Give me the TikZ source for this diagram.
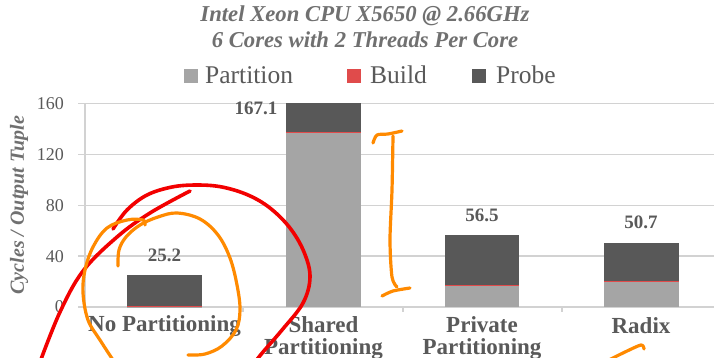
\documentclass[tikz,border=0pt]{standalone}
\usepackage{fontspec}
\setmainfont{Liberation Serif}
\definecolor{partc}{HTML}{A5A5A5}
\definecolor{buildc}{HTML}{E04B4B}
\definecolor{probec}{HTML}{585858}
\definecolor{txtc}{HTML}{595959}
\definecolor{ttlc}{HTML}{707070}
\definecolor{gridc}{HTML}{D2D2D2}
\definecolor{inkred}{HTML}{F20000}
\definecolor{inkorange}{HTML}{FF8A00}
\tikzset{
  ticklabel/.style={anchor=east, inner sep=0pt, text=txtc, font=\fontsize{18}{20}\selectfont},
  catlabel/.style={inner sep=0pt, text=txtc, align=center, font=\fontsize{23}{22}\selectfont\bfseries},
  vallabel/.style={inner sep=0pt, text=txtc, font=\fontsize{19}{20}\selectfont\bfseries},
  titlelabel/.style={inner sep=0pt, text=ttlc, font=\fontsize{22.7}{23}\selectfont\bfseries\itshape},
  legtext/.style={anchor=west, inner sep=0pt, text=txtc, font=\fontsize{25.5}{26}\selectfont},
  legkey/.style={minimum size=14pt, inner sep=0pt},
  gridline/.style={draw=gridc, line width=1.3pt},
  redink/.style={draw=inkred, line width=3.6pt, line cap=round, line join=round},
  orangeink/.style={draw=inkorange, line width=3.2pt, line cap=round, line join=round},
}
\begin{document}
\begin{tikzpicture}[x=1pt,y=-1pt]
\useasboundingbox (0,0) rectangle (714,357);
\fill[white] (0,0) rectangle (714,357);
\clip (0,0) rectangle (714,357);

% title
\node[titlelabel] (t1) at (365,16) {Intel Xeon CPU X5650 @ 2.66GHz};
\node[titlelabel] (t2) at (365,40) {6 Cores with 2 Threads Per Core};

% legend
\node[legkey, fill=partc] (kp) at (190.5,76) {};
\node[legtext] (lp) at (205,75) {Partition};
\node[legkey, fill=buildc] (kb) at (354,76) {};
\node[legtext] (lb) at (370,75) {Build};
\node[legkey, fill=probec] (kr) at (478.5,76) {};
\node[legtext] (lr) at (496,75) {Probe};

% axis title
\node[titlelabel, rotate=90, font=\fontsize{20}{20}\selectfont\bfseries\itshape] (ytitle) at (19,205) {Cycles / Output Tuple};

% data area: origin on the category axis, one unit per cycle
\begin{scope}[shift={(0,307)}, y=1.272pt]
  \foreach \v in {40,80,120,160} {
    \draw[gridline] (85,\v) -- (714,\v);
  }
  \draw[gridline] (85,0) -- (714,0);
  \draw[gridline] (85,0) -- (85,160);
  \foreach \v in {0,40,80,120,160} {
    \draw[gridline] (78,\v) -- (85,\v);
    \node[ticklabel] at (64,\v) {\v};
  }
  \foreach \x in {243,403,562} {
    \draw[gridline] (\x,0) -- (\x,-4);
  }

  % No Partitioning
  \fill[partc]  (127,0) rectangle (202,0.3);
  \fill[buildc] (127,0.3) rectangle (202,1.1);
  \fill[probec] (127,1.1) rectangle (202,25.2);
  % Shared Partitioning (total 167.1, cut at the axis top)
  \fill[partc]  (286,0) rectangle (361,136.6);
  \fill[buildc] (286,136.6) rectangle (361,137.6);
  \fill[probec] (286,137.6) rectangle (361,160);
  % Private Partitioning
  \fill[partc]  (445,0) rectangle (519,16.4);
  \fill[buildc] (445,16.4) rectangle (519,17.6);
  \fill[probec] (445,17.6) rectangle (519,56.5);
  % Radix
  \fill[partc]  (604,0) rectangle (679,19.6);
  \fill[buildc] (604,19.6) rectangle (679,20.6);
  \fill[probec] (604,20.6) rectangle (679,50.7);
\end{scope}

% value labels
\node[vallabel] (v1) at (164.5,255) {25.2};
\node[vallabel] (v2) at (256,108) {167.1};
\node[vallabel] (v3) at (482,215) {56.5};
\node[vallabel] (v4) at (641,222) {50.7};

% category labels
\node[catlabel] (c1) at (164.5,326) {No Partitioning};
\node[catlabel, anchor=north] (c2) at (323.5,316) {Shared\\Partitioning};
\node[catlabel, anchor=north] (c3) at (482,316) {Private\\Partitioning};
\node[catlabel] (c4) at (641,326) {Radix};

% hand-drawn markings
\draw[redink] plot[smooth, tension=0.6] coordinates {(40,362) (60,312) (83,271) (117,237) (150,213) (190,191)};
\draw[redink] plot[smooth, tension=0.6] coordinates {(113,229) (127,210) (147,195) (172,187) (197,185) (222,187) (248,195) (270,208) (290,228) (304,252) (310,277) (303,303) (282,330) (263,352) (255,362)};
\draw[orangeink] plot[smooth, tension=0.6] coordinates {(118,266) (119,250) (126,237) (140,225) (158,217) (177,213) (200,219) (218,235) (230,258) (237,285) (240,310) (236,330) (222,346) (205,354) (188,355)};
\draw[orangeink] plot[smooth, tension=0.6] coordinates {(145,225) (143,220) (127,220) (107,228) (93,247) (85,270) (83,293) (88,320) (100,340) (113,360)};
\draw[orangeink] plot[smooth, tension=0.5] coordinates {(373,143) (377,135) (388,134) (402,131)};
\draw[orangeink] plot[smooth, tension=0.5] coordinates {(393,136) (392,190) (390,240) (392,277) (397,287)};
\draw[orangeink] plot[smooth, tension=0.5] coordinates {(382,296) (393,291) (410,288)};
\draw[orangeink] plot[smooth, tension=0.5] coordinates {(607,361) (625,352) (641,345) (644,349)};
\end{tikzpicture}
\end{document}
